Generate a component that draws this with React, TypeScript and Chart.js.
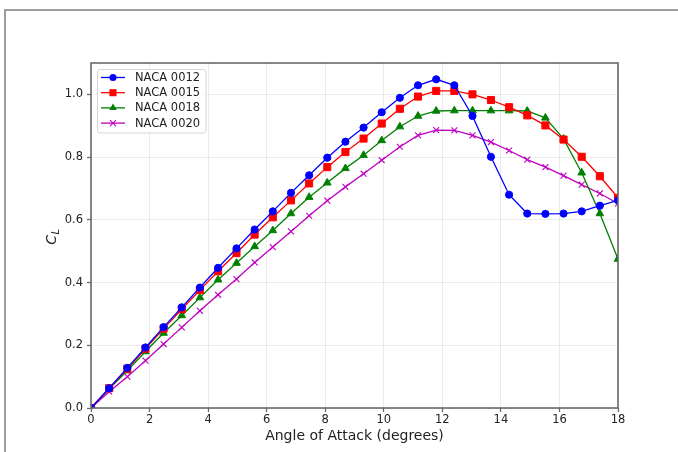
import React, { useEffect, useRef } from "react";
import { Chart, registerables } from "chart.js";

Chart.register(...registerables);

const angles = [0, 0.62, 1.24, 1.86, 2.48, 3.1, 3.72, 4.34, 4.97, 5.59, 6.21, 6.83, 7.45, 8.07, 8.69, 9.31, 9.93, 10.55, 11.17, 11.79, 12.41, 13.03, 13.66, 14.28, 14.9, 15.52, 16.14, 16.76, 17.38, 18];

const naca0012 = [0, 0.063, 0.128, 0.193, 0.258, 0.321, 0.384, 0.447, 0.509, 0.569, 0.627, 0.686, 0.742, 0.798, 0.849, 0.894, 0.943, 0.989, 1.029, 1.048, 1.029, 0.931, 0.801, 0.68, 0.62, 0.619, 0.62, 0.627, 0.645, 0.662];
const naca0015 = [0, 0.063, 0.125, 0.189, 0.253, 0.315, 0.376, 0.436, 0.494, 0.553, 0.608, 0.662, 0.716, 0.768, 0.816, 0.859, 0.907, 0.954, 0.993, 1.011, 1.011, 1.0, 0.982, 0.959, 0.933, 0.901, 0.856, 0.801, 0.739, 0.67];
const naca0018 = [0, 0.061, 0.119, 0.18, 0.239, 0.295, 0.352, 0.409, 0.462, 0.515, 0.566, 0.62, 0.672, 0.718, 0.764, 0.806, 0.853, 0.897, 0.931, 0.947, 0.948, 0.948, 0.948, 0.948, 0.947, 0.925, 0.858, 0.75, 0.62, 0.475];
const naca0020 = [0, 0.052, 0.1, 0.151, 0.204, 0.257, 0.31, 0.361, 0.411, 0.464, 0.513, 0.563, 0.613, 0.661, 0.705, 0.747, 0.79, 0.833, 0.869, 0.886, 0.885, 0.869, 0.848, 0.821, 0.792, 0.768, 0.741, 0.712, 0.684, 0.652];

const seriesNames = ["NACA 0012", "NACA 0015", "NACA 0018", "NACA 0020"];
const seriesColors = ["#0000ff", "#ff0000", "#008000", "#bf00bf"];
const seriesMarkers = ["circle", "rect", "triangle", "crossRot"];
const seriesRadius = [3.6, 5, 4.4, 4.2];

const xTitle = "Angle of Attack (degrees)";
const FONT = '"DejaVu Sans", sans-serif';

function drawMarker(ctx: CanvasRenderingContext2D, kind: string, x: number, y: number, r: number, color: string) {
  ctx.save();
  ctx.fillStyle = color;
  ctx.strokeStyle = color;
  ctx.lineWidth = 1.1;
  ctx.beginPath();
  if (kind === "circle") {
    ctx.arc(x, y, r, 0, Math.PI * 2);
    ctx.fill();
  } else if (kind === "rect") {
    const s = r * Math.SQRT1_2;
    ctx.rect(x - s, y - s, 2 * s, 2 * s);
    ctx.fill();
  } else if (kind === "triangle") {
    let a = 0;
    ctx.moveTo(x + Math.sin(a) * r, y - Math.cos(a) * r);
    a += (2 * Math.PI) / 3;
    ctx.lineTo(x + Math.sin(a) * r, y - Math.cos(a) * r);
    a += (2 * Math.PI) / 3;
    ctx.lineTo(x + Math.sin(a) * r, y - Math.cos(a) * r);
    ctx.closePath();
    ctx.fill();
  } else {
    const d = r * Math.SQRT1_2;
    ctx.moveTo(x - d, y - d);
    ctx.lineTo(x + d, y + d);
    ctx.moveTo(x - d, y + d);
    ctx.lineTo(x + d, y - d);
    ctx.stroke();
  }
  ctx.restore();
}

const framePlugin = {
  id: "framePlugin",
  afterDatasetsDraw(chart: any) {
    const { ctx, chartArea: a } = chart;
    ctx.save();
    ctx.strokeStyle = "#6a6a6a";
    ctx.lineWidth = 1.6;
    ctx.strokeRect(a.left, a.top, a.right - a.left, a.bottom - a.top);
    ctx.restore();
  },
  afterDraw(chart: any) {
    const { ctx, chartArea: a } = chart;
    // y-axis label C_L
    ctx.save();
    ctx.translate(56, (a.top + a.bottom) / 2 + 1);
    ctx.rotate(-Math.PI / 2);
    ctx.fillStyle = "#222";
    ctx.textBaseline = "alphabetic";
    ctx.textAlign = "left";
    ctx.font = `italic 14px ${FONT}`;
    const wC = ctx.measureText("C").width;
    ctx.font = `italic 10px ${FONT}`;
    const wL = ctx.measureText("L").width;
    const start = -(wC + wL + 1) / 2;
    ctx.font = `italic 14px ${FONT}`;
    ctx.fillText("C", start, 0);
    ctx.font = `italic 10px ${FONT}`;
    ctx.fillText("L", start + wC + 0.5, 2.5);
    ctx.restore();

    // legend
    const bx = 97.5, by = 69.5, bw = 108.5, bh = 63.5;
    ctx.save();
    ctx.beginPath();
    const r = 2.5;
    ctx.moveTo(bx + r, by);
    ctx.lineTo(bx + bw - r, by);
    ctx.arcTo(bx + bw, by, bx + bw, by + r, r);
    ctx.lineTo(bx + bw, by + bh - r);
    ctx.arcTo(bx + bw, by + bh, bx + bw - r, by + bh, r);
    ctx.lineTo(bx + r, by + bh);
    ctx.arcTo(bx, by + bh, bx, by + bh - r, r);
    ctx.lineTo(bx, by + r);
    ctx.arcTo(bx, by, bx + r, by, r);
    ctx.closePath();
    ctx.fillStyle = "rgba(255,255,255,0.85)";
    ctx.fill();
    ctx.strokeStyle = "#d4d4d4";
    ctx.lineWidth = 1;
    ctx.stroke();
    for (let i = 0; i < seriesNames.length; i++) {
      const y = 77.5 + i * 15.2;
      ctx.strokeStyle = seriesColors[i];
      ctx.lineWidth = 1.3;
      ctx.beginPath();
      ctx.moveTo(101, y);
      ctx.lineTo(125, y);
      ctx.stroke();
      drawMarker(ctx, seriesMarkers[i], 113, y, seriesRadius[i], seriesColors[i]);
      ctx.fillStyle = "#222";
      ctx.font = `11.5px ${FONT}`;
      ctx.textBaseline = "middle";
      ctx.textAlign = "left";
      ctx.fillText(seriesNames[i], 135, y + 0.5);
    }
    ctx.restore();
  },
};

export default function App() {
  const ref = useRef<HTMLCanvasElement | null>(null);
  useEffect(() => {
    if (!ref.current) return;
    const datasets = [naca0012, naca0015, naca0018, naca0020].map((vals, i) => ({
      label: seriesNames[i],
      data: vals.map((v, j) => ({ x: angles[j], y: v })),
      borderColor: seriesColors[i],
      backgroundColor: seriesColors[i],
      pointBackgroundColor: seriesColors[i],
      pointBorderColor: seriesColors[i],
      pointStyle: seriesMarkers[i] as any,
      pointRadius: seriesRadius[i],
      pointBorderWidth: seriesMarkers[i] === "crossRot" ? 1.1 : 1,
      borderWidth: 1.3,
      tension: 0,
      fill: false,
    }));
    const chart = new Chart(ref.current, {
      type: "line",
      data: { datasets },
      plugins: [framePlugin],
      options: {
        animation: false,
        responsive: false,
        devicePixelRatio: 1,
        layout: { padding: { left: 0, right: 60, top: 63, bottom: 0 } },
        plugins: { legend: { display: false }, tooltip: { enabled: false } },
        scales: {
          x: {
            type: "linear",
            min: 0,
            max: 18,
            afterFit: (s: any) => {
              s.height = 44;
            },
            grid: { color: "rgba(0,0,0,0.08)", lineWidth: 1, tickLength: 4, tickColor: "#6a6a6a", tickWidth: 1.3 },
            border: { display: false },
            ticks: { stepSize: 2, padding: 1, color: "#222", font: { family: FONT, size: 11.5 }, maxRotation: 0 },
            title: { display: true, text: xTitle, color: "#222", font: { family: FONT, size: 14 }, padding: { top: 0, bottom: 7.6 } },
          },
          y: {
            type: "linear",
            min: 0,
            max: 1.1,
            afterFit: (s: any) => {
              s.width = 91;
            },
            grid: { color: "rgba(0,0,0,0.08)", lineWidth: 1, tickLength: 4, tickColor: "#6a6a6a", tickWidth: 1.3 },
            border: { display: false },
            ticks: {
              stepSize: 0.2,
              includeBounds: false,
              padding: 4,
              color: "#222",
              font: { family: FONT, size: 11.5 },
              callback: (v: any) => Number(v).toFixed(1),
            },
          },
        },
      },
    });
    return () => chart.destroy();
  }, []);
  return (
    <div style={{ position: "fixed", left: 0, top: 0, width: 678, height: 452, background: "#fff", overflow: "hidden" }}>
      <canvas ref={ref} width={678} height={452} style={{ position: "absolute", left: 0, top: 0, width: 678, height: 452, display: "block" }} />
      <div style={{ position: "absolute", left: 4, top: 9, right: -10, bottom: -10, borderTop: "2px solid #9c9c9c", borderLeft: "2px solid #9c9c9c", pointerEvents: "none" }} />
    </div>
  );
}
